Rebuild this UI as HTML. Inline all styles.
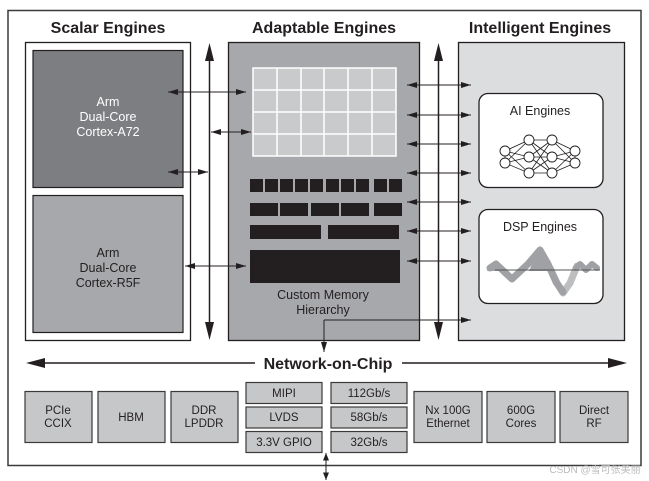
<!DOCTYPE html>
<html><head><meta charset="utf-8"><style>
html,body{margin:0;padding:0;background:#fff;}
svg{display:block;font-family:"Liberation Sans",Arial,sans-serif;}
</style></head><body>
<svg width="649" height="481" viewBox="0 0 649 481" xmlns="http://www.w3.org/2000/svg">
<defs>
<marker id="a" viewBox="0 0 10 6" refX="10" refY="3" markerWidth="10" markerHeight="6" orient="auto-start-reverse" markerUnits="userSpaceOnUse"><path d="M0,0L10,3L0,6z" fill="#231f20"/></marker>
<marker id="c" viewBox="0 0 10 8" refX="10" refY="4" markerWidth="8" markerHeight="6" orient="auto-start-reverse" markerUnits="userSpaceOnUse"><path d="M0,0L10,4L0,8z" fill="#231f20"/></marker>
</defs>
<rect x="8" y="10.5" width="633" height="455" fill="#fff" stroke="#3a3a3a" stroke-width="1.5"/>
<g font-weight="bold" font-size="16" fill="#231f20" text-anchor="middle">
<text x="108" y="33">Scalar Engines</text>
<text x="324" y="33">Adaptable Engines</text>
<text x="540" y="33">Intelligent Engines</text>
</g>
<rect x="25.5" y="42.5" width="165" height="298" fill="#fff" stroke="#231f20" stroke-width="1.3"/>
<rect x="33" y="50.5" width="150" height="137" fill="#7d7e81" stroke="#231f20" stroke-width="1.2"/>
<rect x="33" y="195.5" width="150" height="137" fill="#a7a8ab" stroke="#231f20" stroke-width="1.2"/>
<g font-size="12.5" text-anchor="middle">
<text x="108" y="106" fill="#fff">Arm</text><text x="108" y="121" fill="#fff">Dual-Core</text><text x="108" y="136" fill="#fff">Cortex-A72</text>
<text x="108" y="257" fill="#231f20">Arm</text><text x="108" y="272" fill="#231f20">Dual-Core</text><text x="108" y="287" fill="#231f20">Cortex-R5F</text>
</g>
<rect x="228.5" y="42.5" width="191" height="298" fill="#a7a8ab" stroke="#231f20" stroke-width="1.3"/>
<rect x="253" y="68" width="143" height="88" fill="#c9cacc" stroke="#fff" stroke-width="1.5"/>
<g stroke="#fff" stroke-width="1.5">
<line x1="277" y1="68" x2="277" y2="156"/><line x1="301" y1="68" x2="301" y2="156"/><line x1="324" y1="68" x2="324" y2="156"/><line x1="348" y1="68" x2="348" y2="156"/><line x1="372" y1="68" x2="372" y2="156"/>
<line x1="253" y1="90" x2="396" y2="90"/><line x1="253" y1="112" x2="396" y2="112"/><line x1="253" y1="134" x2="396" y2="134"/>
</g>
<g fill="#231f20">
<rect x="250" y="179" width="13" height="13"/><rect x="265" y="179" width="13" height="13"/><rect x="280" y="179" width="13" height="13"/><rect x="295" y="179" width="13" height="13"/><rect x="310" y="179" width="13" height="13"/><rect x="326" y="179" width="13" height="13"/><rect x="341" y="179" width="13" height="13"/><rect x="356" y="179" width="13" height="13"/><rect x="374" y="179" width="13" height="13"/><rect x="389" y="179" width="13" height="13"/>
<rect x="250" y="203" width="28" height="13"/><rect x="280" y="203" width="28" height="13"/><rect x="311" y="203" width="28" height="13"/><rect x="341" y="203" width="28" height="13"/><rect x="374" y="203" width="28" height="13"/>
<rect x="250" y="225" width="71" height="14"/><rect x="328" y="225" width="71" height="14"/>
<rect x="250" y="250" width="150" height="33"/>
</g>
<g font-size="12.5" fill="#231f20" text-anchor="middle"><text x="323" y="299">Custom Memory</text><text x="323" y="314">Hierarchy</text></g>
<rect x="458.5" y="42.5" width="166" height="298" fill="#dcdddf" stroke="#231f20" stroke-width="1.3"/>
<rect x="479" y="93.5" width="124" height="94" rx="9" fill="#fff" stroke="#231f20" stroke-width="1.3"/>
<rect x="479" y="209.5" width="124" height="94" rx="9" fill="#fff" stroke="#231f20" stroke-width="1.3"/>
<g font-size="12.5" fill="#231f20" text-anchor="middle"><text x="540" y="115">AI Engines</text><text x="540" y="231">DSP Engines</text></g>
<g stroke="#231f20" stroke-width="0.8" fill="none">
<path d="M505,151L529,140M505,151L529,157M505,151L529,173M505,163L529,140M505,163L529,157M505,163L529,173M529,140L552,140M529,140L552,157M529,140L552,173M529,157L552,140M529,157L552,157M529,157L552,173M529,173L552,140M529,173L552,157M529,173L552,173M552,140L575,151M552,140L575,163M552,157L575,151M552,157L575,163M552,173L575,151M552,173L575,163M505,151L505,163M575,151L575,163"/>
</g>
<g fill="#fff" stroke="#231f20" stroke-width="0.9">
<circle cx="505" cy="151" r="5"/><circle cx="505" cy="163" r="5"/>
<circle cx="529" cy="140" r="5"/><circle cx="529" cy="157" r="5"/><circle cx="529" cy="173" r="5"/>
<circle cx="552" cy="140" r="5"/><circle cx="552" cy="157" r="5"/><circle cx="552" cy="173" r="5"/>
<circle cx="575" cy="151" r="5"/><circle cx="575" cy="163" r="5"/>
</g>
<!-- DSP wave -->
<polyline points="550,268 557,283 563,293 570,283 577,266" fill="none" stroke="#bdbec0" stroke-width="7" stroke-linejoin="round" stroke-linecap="round"/>
<polyline points="490,268 496,264 512,279 528,264 540,250 548,264 556,282 563,292" fill="none" stroke="#a0a1a4" stroke-width="7" stroke-linejoin="round" stroke-linecap="round"/>
<polyline points="576,268 580,264 586,270 592,264 597,268" fill="none" stroke="#a0a1a4" stroke-width="6" stroke-linejoin="round" stroke-linecap="round"/>
<polygon points="487,271 496,261 505,271" fill="#a0a1a4"/>
<polygon points="529,271 540,246 551,271" fill="#a0a1a4"/>
<line x1="495" y1="270" x2="600" y2="270" stroke="#555" stroke-width="1"/>
<line x1="209.5" y1="55" x2="209.5" y2="328" stroke="#231f20" stroke-width="1.5"/>
<polygon points="209.5,43 205,61 214,61" fill="#231f20"/>
<polygon points="209.5,340 205,322 214,322" fill="#231f20"/>
<line x1="438.5" y1="55" x2="438.5" y2="328" stroke="#231f20" stroke-width="1.5"/>
<polygon points="438.5,43 434,61 443,61" fill="#231f20"/>
<polygon points="438.5,340 434,322 443,322" fill="#231f20"/>
<g stroke="#231f20" stroke-width="1" marker-start="url(#a)" marker-end="url(#a)">
<line x1="168" y1="92" x2="246" y2="92"/>
<line x1="211" y1="132" x2="251" y2="132"/>
<line x1="168" y1="172" x2="208" y2="172"/>
<line x1="185" y1="266" x2="246" y2="266"/>
<line x1="407" y1="85" x2="471" y2="85"/>
<line x1="407" y1="115" x2="471" y2="115"/>
<line x1="407" y1="144" x2="471" y2="144"/>
<line x1="407" y1="173" x2="471" y2="173"/>
<line x1="407" y1="202" x2="471" y2="202"/>
<line x1="407" y1="231" x2="471" y2="231"/>
<line x1="407" y1="261" x2="471" y2="261"/>
</g>
<line x1="324" y1="320" x2="471" y2="320" stroke="#231f20" stroke-width="1" marker-end="url(#a)"/>
<line x1="324" y1="320" x2="324" y2="352" stroke="#231f20" stroke-width="1" marker-end="url(#a)"/>
<line x1="40" y1="363" x2="255" y2="363" stroke="#231f20" stroke-width="1.5"/>
<polygon points="26,363 45,358 45,368" fill="#231f20"/>
<line x1="402" y1="363" x2="612" y2="363" stroke="#231f20" stroke-width="1.5"/>
<polygon points="627,363 608,358 608,368" fill="#231f20"/>
<text x="328" y="369" font-size="16" font-weight="bold" fill="#231f20" text-anchor="middle">Network-on-Chip</text>
<g fill="#c6c7c9" stroke="#3a3a3a" stroke-width="1.2">
<rect x="25" y="391.5" width="67" height="51"/><rect x="98" y="391.5" width="67" height="51"/><rect x="171" y="391.5" width="67" height="51"/>
<rect x="246" y="382.5" width="76" height="21"/><rect x="246" y="407" width="76" height="21"/><rect x="246" y="431.5" width="76" height="21"/>
<rect x="331" y="382.5" width="76" height="21"/><rect x="331" y="407" width="76" height="21"/><rect x="331" y="431.5" width="76" height="21"/>
<rect x="414" y="391.5" width="68" height="51"/><rect x="487" y="391.5" width="68" height="51"/><rect x="560" y="391.5" width="68" height="51"/>
</g>
<g font-size="11.5" fill="#231f20" text-anchor="middle">
<text x="58" y="414">PCIe</text><text x="58" y="427">CCIX</text>
<text x="131" y="421">HBM</text>
<text x="204" y="414">DDR</text><text x="204" y="427">LPDDR</text>
<text x="284" y="397">MIPI</text><text x="284" y="421">LVDS</text><text x="284" y="446">3.3V GPIO</text>
<text x="369" y="397">112Gb/s</text><text x="369" y="421">58Gb/s</text><text x="369" y="446">32Gb/s</text>
<text x="448" y="414">Nx 100G</text><text x="448" y="427">Ethernet</text>
<text x="521" y="414">600G</text><text x="521" y="427">Cores</text>
<text x="594" y="414">Direct</text><text x="594" y="427">RF</text>
</g>
<line x1="326" y1="453" x2="326" y2="480" stroke="#231f20" stroke-width="1" marker-start="url(#c)" marker-end="url(#c)"/>
<text x="595" y="473" font-size="10" fill="#bbb" text-anchor="middle" font-family="Liberation Sans, Noto Sans CJK SC, sans-serif">CSDN @雪可张美丽</text>
</svg>
</body></html>
